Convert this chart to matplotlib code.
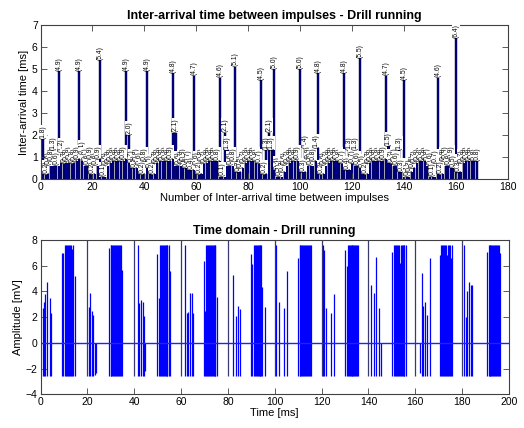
import matplotlib
matplotlib.use("Agg")
import matplotlib.pyplot as plt
import numpy as np

plt.rcParams['font.family'] = ['Liberation Sans', 'DejaVu Sans']

# ---------------- Top chart data: inter-arrival times (ms) ----------------
interarrival = [
    1.8, 0.2, 0.6, 0.8, 1.3, 0.6, 4.9, 1.2, 0.7, 0.8,
    0.9, 0.7, 0.8, 0.9, 4.9, 1.1, 0.8, 0.6, 0.9, 0.2,
    0.6, 0.9, 5.4, 0.1, 0.6, 0.7, 0.8, 0.9, 0.8, 0.9,
    0.8, 0.9, 4.9, 2.0, 0.7, 0.5, 0.8, 0.6, 0.2, 0.8,
    4.9, 0.5, 0.2, 0.7, 0.8, 0.9, 0.8, 0.9, 0.8, 0.9,
    4.8, 2.1, 0.6, 0.7, 0.8, 0.5, 0.7, 0.4, 4.7, 0.6,
    0.2, 0.8, 0.7, 0.8, 0.9, 0.8, 0.9, 0.8, 4.6, 0.1,
    2.1, 1.3, 0.6, 0.8, 5.1, 0.3, 0.5, 0.7, 0.8, 0.9,
    0.8, 0.9, 0.8, 0.7, 4.5, 0.2, 1.3, 2.1, 1.3, 5.0,
    0.4, 0.1, 0.3, 0.6, 0.7, 0.8, 0.9, 0.8, 0.9, 5.0,
    0.3, 1.4, 0.9, 0.6, 0.8, 1.4, 4.8, 0.2, 0.6, 0.7,
    0.8, 0.9, 0.8, 0.9, 0.8, 0.7, 4.8, 0.4, 1.3, 0.7,
    1.3, 0.6, 5.5, 0.5, 0.2, 0.7, 0.8, 0.9, 0.8, 0.9,
    0.8, 0.9, 4.7, 1.5, 0.7, 0.8, 0.6, 1.3, 0.3, 4.5,
    0.1, 0.3, 0.5, 0.7, 0.8, 0.9, 0.8, 0.9, 0.8, 0.6,
    0.1, 0.7, 4.6, 0.2, 0.8, 0.9, 0.6, 0.9, 0.5, 6.4,
    0.3, 0.7, 0.8, 0.9, 0.8, 0.9, 0.8, 0.8,
]
bar_index = list(range(1, len(interarrival) + 1))

# ---------------- Bottom chart data: time-domain pulses ----------------
burst_t = [
    1.0, 1.3, 1.9, 2.6, 4.0, 4.6,
    9.2, 9.6, 10.6, 11.0, 11.4, 11.8, 12.2, 12.6, 13.0, 13.3, 13.9, 14.6,
    20.5, 21.2, 21.9, 22.6, 23.2, 23.9,
    29.3, 29.9, 30.3, 30.7, 31.1, 31.5, 31.9, 32.3, 32.7, 33.1, 33.5, 33.9, 34.3, 35.0,
    41.8, 42.2, 42.9, 43.6, 44.2, 44.8,
    49.8, 50.4, 51.0, 51.4, 51.8, 52.2, 52.6, 53.0, 53.4, 53.8, 54.2, 54.7, 55.2,
    61.9, 62.5, 63.1, 63.9, 64.6, 65.3,
    69.7, 70.4, 70.8, 71.2, 71.6, 72.0, 72.4, 72.8, 73.2, 73.6, 74.0, 74.4, 74.7, 75.3,
    82.3, 83.6, 84.2, 85.1,
    89.8, 90.5, 91.1, 91.5, 91.9, 92.3, 92.7, 93.1, 93.5, 93.9, 94.3, 94.6, 95.7,
    100.5, 101.9, 103.9, 105.3,
    110.0, 110.6, 111.0, 111.4, 111.8, 112.2, 112.6, 113.0, 113.4, 113.8, 114.2, 114.6, 115.0, 115.4,
    120.5, 121.2, 122.0, 124.0, 125.5,
    130.2, 130.8, 131.2, 131.6, 132.0, 132.4, 132.8, 133.2, 133.6, 134.0, 134.4, 134.8, 135.2, 135.6,
    141.1, 142.4, 143.3, 144.7, 145.4,
    150.2, 150.9, 151.3, 151.7, 152.1, 152.5, 152.9, 153.4, 153.8, 154.2, 154.6, 155.0, 155.4, 155.9,
    161.9, 162.7, 163.4, 164.0, 164.9, 166.2,
    170.5, 171.0, 171.4, 171.8, 172.2, 172.6, 173.0, 173.5, 173.9, 174.3, 174.7, 175.1, 175.6,
    180.8, 181.5, 182.2, 182.9, 183.6, 184.3,
    190.6, 191.3, 191.7, 192.1, 192.5, 192.9, 193.3, 193.7, 194.1, 194.5, 194.9, 195.3, 195.6, 196.0,
]
burst_top = [
    2.7, 3.2, 3.8, 4.7, 3.5, 2.3,
    7.0, 7.0, 7.6, 7.6, 7.6, 7.6, 7.6, 7.6, 7.6, 7.3, 7.6, 5.2,
    2.8, 3.9, 2.5, 2.2, 0.0, 0.0,
    7.4, 7.6, 7.6, 7.6, 7.6, 7.6, 7.6, 7.6, 7.6, 7.6, 7.6, 7.6, 7.6, 5.7,
    7.6, 3.1, 3.3, 3.2, 2.1, 0.0,
    6.9, 3.5, 7.6, 7.6, 7.6, 7.6, 7.6, 7.6, 7.6, 7.6, 7.6, 7.6, 5.6,
    7.6, 2.3, 2.4, 3.9, 3.9, 2.3,
    6.4, 2.5, 7.6, 7.6, 7.6, 7.6, 7.6, 7.6, 7.6, 7.6, 7.6, 7.6, 7.6, 3.6,
    5.3, 2.1, 2.85, 2.6,
    6.9, 6.1, 7.6, 7.6, 7.6, 7.6, 7.6, 7.6, 7.6, 7.6, 7.6, 4.35, 2.8,
    7.6, 3.2, 2.7, 5.6,
    6.6, 7.6, 7.6, 7.6, 7.6, 7.6, 7.6, 7.6, 7.6, 7.6, 7.6, 7.6, 7.6, 7.6,
    7.6, 7.2, 2.7, 2.3, 3.8,
    7.2, 6.0, 7.6, 7.6, 7.6, 7.6, 7.6, 7.6, 7.6, 7.6, 7.6, 7.6, 7.6, 7.6,
    4.5, 3.9, 6.7, 2.7, 0.0,
    7.05, 7.6, 7.6, 7.6, 7.6, 7.6, 7.6, 6.2, 7.6, 7.6, 7.6, 7.6, 7.6, 7.6,
    0.0, 5.45, 2.85, 3.2, 2.2, 6.6,
    6.8, 7.6, 7.6, 7.6, 7.6, 7.6, 7.6, 6.8, 7.6, 7.6, 7.6, 6.6, 7.6,
    7.6, 2.0, 4.0, 4.75, 4.5, 4.5,
    7.1, 7.6, 7.6, 7.6, 7.6, 7.6, 7.6, 7.6, 7.6, 7.6, 7.6, 7.6, 7.6, 7.0,
]
burst_bottom = [-2.6] * len(burst_t)
low_override = {23.2: -2.5, 23.9: -2.35, 44.8: -2.2, 161.9: -2.35}
burst_bottom = [low_override.get(t, b) for t, b in zip(burst_t, burst_bottom)]

# full-height pulses every 20 ms
sync_t = [20, 40, 60, 80, 100, 120, 140, 160, 180]
sync_top = 8.0
sync_bottom = -2.6

# ---------------- Figure ----------------
fig = plt.figure(figsize=(5.24, 4.28), dpi=100)
ax1 = fig.add_axes([0.0773, 0.5818, 0.8920, 0.3598])
ax2 = fig.add_axes([0.0773, 0.0787, 0.8940, 0.3606])

spine_col = '#404040'
for ax in (ax1, ax2):
    for s in ax.spines.values():
        s.set_color(spine_col)
        s.set_linewidth(0.8)
    ax.tick_params(direction='in', top=True, right=True, length=4,
                   width=0.6, color=spine_col, labelsize=7.5, pad=2)

# Top chart
ax1.bar(bar_index, interarrival, width=0.8, color='#000088',
        edgecolor='#000040', linewidth=0.3)
for xi, v in zip(bar_index, interarrival):
    ax1.text(xi, v + 0.02, '(%.1f)' % v, rotation=90, ha='center', va='bottom',
             fontsize=4.8, color='black',
             bbox=dict(facecolor='white', edgecolor='none', pad=0.2))
ax1.set_xlim(0, 180)
ax1.set_ylim(0, 7)
ax1.set_xticks(range(0, 181, 20))
ax1.set_yticks(range(0, 8))
ax1.set_title('Inter-arrival time between impulses - Drill running',
              fontsize=9, fontweight='bold', pad=4)
ax1.set_xlabel('Number of Inter-arrival time between impulses', fontsize=8, labelpad=1)
ax1.set_ylabel('Inter-arrival time [ms]', fontsize=8, labelpad=2)

# Bottom chart
ax2.vlines(sync_t, sync_bottom, sync_top, color='#3a3a70', linewidth=0.9, zorder=2)
ax2.vlines(burst_t, burst_bottom, burst_top, color='#0000ff', linewidth=0.9, zorder=3)
ax2.axhline(0, color='#2020ff', linewidth=1.0, zorder=4)
ax2.set_xlim(0, 200)
ax2.set_ylim(-4, 8)
ax2.set_xticks(range(0, 201, 20))
ax2.set_yticks(range(-4, 9, 2))
ax2.set_title('Time domain - Drill running', fontsize=9, fontweight='bold', pad=4)
ax2.set_xlabel('Time [ms]', fontsize=8, labelpad=1)
ax2.set_ylabel('Amplitude [mV]', fontsize=8, labelpad=2)

fig.savefig('out.png', dpi=100)
